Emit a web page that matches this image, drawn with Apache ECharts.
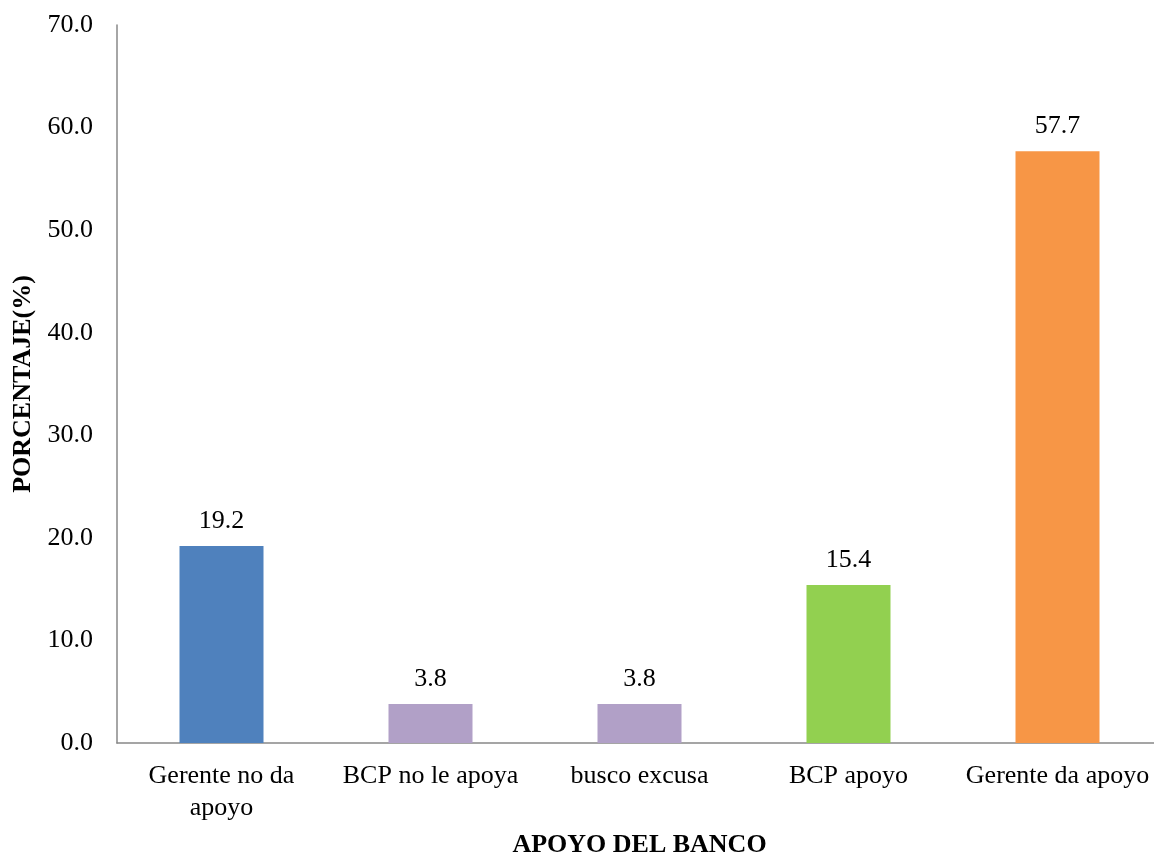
<!DOCTYPE html>
<html>
<head>
<meta charset="utf-8">
<script src="https://cdn.jsdelivr.net/npm/echarts@6/dist/echarts.min.js"></script>
<style>
  html, body { margin: 0; padding: 0; background: #ffffff; }
  #chart { width: 1154px; height: 854px; }
</style>
</head>
<body>
<div id="chart"></div>
<script>
// Apoyo del banco: porcentaje de respuestas por categoría
const categories = ['Gerente no da\napoyo', 'BCP no le apoya', 'busco excusa', 'BCP apoyo', 'Gerente da apoyo'];
const percentages = [19.2, 3.8, 3.8, 15.4, 57.7];
const barColors = ['#4F81BD', '#B1A0C7', '#B1A0C7', '#92D050', '#F79646'];

const serif = '"Liberation Serif", "Times New Roman", serif';
const fontSize = 26;

const chart = echarts.init(document.getElementById('chart'), null, { renderer: 'canvas' });

chart.setOption({
  backgroundColor: '#ffffff',
  animation: false,
  grid: {
    left: 117, top: 25, width: 1045, height: 718,
    containLabel: false,
    outerBoundsMode: 'none'
  },
  xAxis: {
    type: 'category',
    data: categories,
    name: 'APOYO DEL BANCO',
    nameLocation: 'middle',
    nameGap: 89,
    nameTextStyle: { fontFamily: serif, fontSize: fontSize, fontWeight: 'bold', color: '#000' },
    axisLine: { lineStyle: { color: '#888888', width: 1.5 } },
    axisTick: { show: false },
    axisLabel: {
      interval: 0,
      margin: 17,
      fontFamily: serif,
      fontSize: fontSize,
      lineHeight: 32,
      color: '#000'
    }
  },
  yAxis: {
    type: 'value',
    min: 0,
    max: 70,
    interval: 10,
    name: 'PORCENTAJE(%)',
    nameLocation: 'middle',
    nameGap: 81,
    nameTextStyle: { fontFamily: serif, fontSize: fontSize, fontWeight: 'bold', color: '#000' },
    axisLine: { show: true, lineStyle: { color: '#888888', width: 1.5 } },
    axisTick: { show: false },
    splitLine: { show: false },
    axisLabel: {
      margin: 24,
      fontFamily: serif,
      fontSize: fontSize,
      color: '#000',
      formatter: v => v.toFixed(1)
    }
  },
  series: [{
    type: 'bar',
    data: percentages.map((v, i) => ({ value: v, itemStyle: { color: barColors[i] } })),
    barWidth: 84,
    label: {
      show: true,
      position: 'top',
      distance: 12,
      fontFamily: serif,
      fontSize: fontSize,
      color: '#000',
      formatter: p => p.value.toFixed(1)
    }
  }]
});
</script>
</body>
</html>
